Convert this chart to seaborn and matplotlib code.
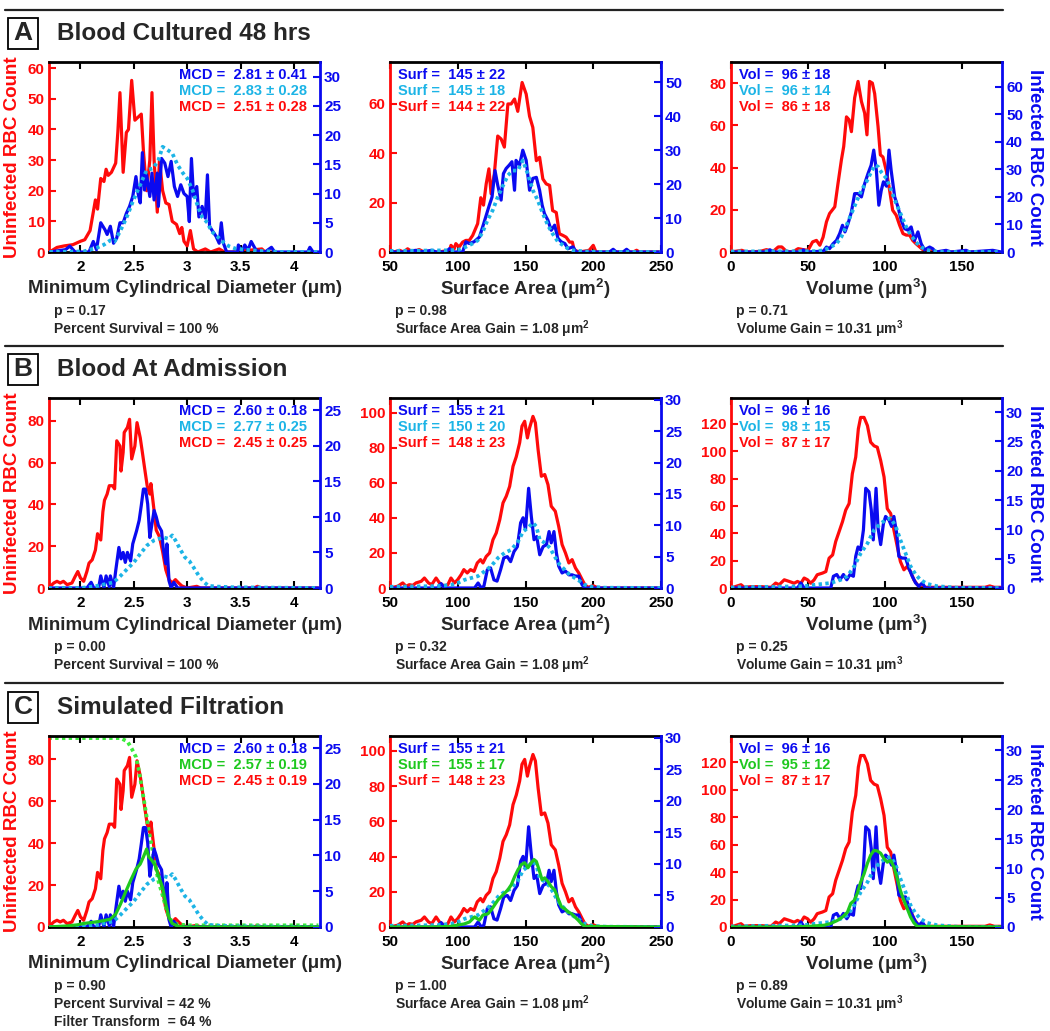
import numpy as np
import pandas as pd
import matplotlib
matplotlib.use("Agg")
import matplotlib.pyplot as plt
import seaborn as sns
from matplotlib.patches import Rectangle
from matplotlib.lines import Line2D

# ---------------- DATA ----------------
# Panel A (Blood Cultured 48 hrs) - MCD
a_mcd_red_x = [1.71,1.78,1.85,1.93,2.0,2.04,2.09,2.14,2.16,2.19,2.22,2.24,2.26,2.29,2.31,2.33,2.35,2.37,2.40,2.43,2.45,2.48,2.51,2.54,2.57,2.59,2.62,2.65,2.67,2.69,2.72,2.74,2.77,2.80,2.83,2.86,2.90,2.93,2.95,2.97,3.00,3.03,3.06,3.10,3.17,3.22,3.30,3.35,3.42,3.70,3.73,3.80]
a_mcd_red_y = [0,1.5,2,2.4,3.5,4,7,17,14,24,23,27,25,26,27.5,29,39,52,26,39,40,56,43,44,45,33,20,30,52,30,13,30,20,16,15.5,10,9,6,8,3.5,2,7,1,0,1,0,1,0,0,1,0,0]
a_mcd_blue_x = [1.71,1.86,1.90,1.95,2.08,2.12,2.15,2.19,2.23,2.25,2.28,2.31,2.34,2.37,2.40,2.43,2.46,2.49,2.52,2.54,2.56,2.58,2.60,2.62,2.65,2.67,2.69,2.72,2.73,2.76,2.79,2.82,2.85,2.88,2.91,2.94,2.97,3.00,3.02,3.04,3.06,3.09,3.11,3.14,3.17,3.19,3.21,3.23,3.27,3.30,3.32,3.34,3.37,3.47,3.48,3.51,3.54,3.57,3.60,3.63,3.65,3.73,3.79,3.82,4.13,4.15,4.18,4.24]
a_mcd_blue_y = [0,0.4,1,0,0,1.8,0.4,5,3.8,3,4.4,1.5,2.4,5,5,6.6,7.8,9.5,12.9,10,8.4,17,10.6,13.2,9.5,13.5,8.9,13.5,7.8,16,15.2,12.9,15.5,11.2,9.5,11.5,10,9.5,5.2,16,9.5,11.2,6,7.8,5.8,13.2,4.4,3.8,2.7,1.5,5,1.5,0,0,1.2,0,1.2,0.3,1.8,0.8,0.2,0,0.8,0,0,0.8,0,0]
a_mcd_cyan_x = [1.71,2.03,2.09,2.15,2.22,2.28,2.32,2.37,2.43,2.49,2.56,2.62,2.68,2.73,2.77,2.82,2.86,2.91,2.96,3.00,3.05,3.10,3.14,3.19,3.23,3.28,3.33,3.39,3.45,3.54,3.67,3.88,4.24]
a_mcd_cyan_y = [0,0.1,0.4,0.7,1.25,2,1.8,3.5,5.8,8.6,11.5,14,14.3,15.7,18,17.4,16.9,14.9,13.5,12.6,10.6,7.8,6,5,3.5,2.7,1.8,1,0.6,0.4,0.2,0,0]

# Panel A - Surface area
a_sa_red_x = [50,53,57,60,63,66.5,71.5,75,86,94,95,97.4,98.6,101,103.6,106,108.5,111,114.7,117,119,121,123,124.6,127,129.5,132,134.4,137,139.4,141.9,144.3,147.5,150.5,153,155.4,158,160.4,162.8,165.3,167.8,170,172.7,175,177.7,180,182.6,184.6,186,190,197,200,202,229.5,232,234,250]
a_sa_red_y = [0.7,0,0.7,0,1.3,0,1,0,0,0.7,2.7,1.3,3.4,2,4,4.7,4.7,6.7,11.5,22,19,27.6,33.7,23.6,31.7,47,45.8,42.5,60,60,62,57,68.7,64,55,50.5,37,38.4,29.6,27.6,27,16.8,16,7.4,6.7,6,4,4,0.7,0,0.7,2.7,0,0,0.7,0,0]
a_sa_blue_x = [50,53,61.6,69,72,81,84,91,94,97,101,103.6,106,108.5,112,116,118.4,121,123.3,125.3,127.5,129.5,132,133.7,135.7,138,140,141.9,143,145.6,148,150.5,153,155.4,158,160.4,162.3,164,166.5,169,171.5,174,176.4,179,181.4,185,187.5,212,214.7,217,222,224.6,227,250]
a_sa_blue_y = [0.5,0,0,0.5,0,0.5,0,0,1,0,0,0,3,2.5,3,4.4,7.4,10.8,13.8,16.2,24,19.7,15.3,23.1,24.6,25.6,26.6,18.2,27,25.6,30,27,18.2,21.7,22,18.2,13.8,11.3,9.4,6.4,7.9,4,3,2.5,1,1.5,0,0,0.8,0,0,0.8,0,0]
a_sa_cyan_x = [50,94,101,106,111,114.7,118.4,122,125.8,129.5,133,137,140.6,144.3,148,151.7,155.4,159,162.8,166.5,170,174,177.7,181.4,185,192.5,207,250]
a_sa_cyan_y = [0.3,0.5,0.7,1.5,2.5,3.4,5.9,9.4,12.3,16.2,19.2,22.6,24,24,27,23,18.2,15.3,11.3,7.9,5.4,3,2,1,0.5,0.2,0,0]

# Panel A - Volume
a_vol_red_x = [0,7,10,19,23,27.4,30.7,33,36,40,43.6,47,50,53,55.5,57.7,59.8,62,64,67.4,69.5,71.7,73.2,75,76.7,78.2,80.3,82.5,84.7,86.8,88.3,90,91.8,93.3,95.5,97,98.7,101,103,105,107.3,109.5,111.7,113.8,116,118,120,122.5,124.6,126.8,129,131,170]
a_vol_red_y = [0,0.8,0,0.3,1.1,0.3,2.4,2.4,0.3,0,1.6,1.1,0.8,4.8,5.5,3.2,7,14.3,18.2,21.4,32.5,43.6,50,64,62.6,57,73,80.8,71.3,65.8,55.5,80.8,80,75,59.4,46,45,38,29.3,19.8,17.4,12.7,8.7,8,8,5.5,4,2.4,1.1,0.3,1.1,0,0]
a_vol_blue_x = [0,23,25.3,27.5,44.7,47,49,60,62,64,66.3,68.5,70.6,72.4,74,76,78.2,80.3,82.5,84.7,86.8,89,91,92.7,94.4,96,97.6,99,101,102.6,104,106.3,108.4,110.6,112.7,115,117,119.2,121.4,123.5,125.7,129,131,133,139.7,143,152.7,155,170,175.5]
a_vol_blue_y = [0,0,0.8,0,0,0.8,0,0.3,1.8,1.2,3,4.2,6.7,9.7,7.3,10.3,14.5,21.2,21.2,20,24.8,28.5,31.5,37,29.7,17,22.4,25.5,23.9,37,29.7,20,16.4,11.5,8.5,7.9,9.1,4.2,7.3,3,0.8,1.8,1.2,0,0.6,0,0.6,0,0.6,0]
a_vol_cyan_x = [0,55,60,64,68.5,71.7,75,78.2,81.4,84.7,88,91,93.3,95.5,97.6,101,104,107.3,110.6,113.8,117,120,123.5,126.8,131,137.6,175.5]
a_vol_cyan_y = [0.2,0.3,0.6,1.6,3,5.5,9.7,13.9,18.2,22.4,25.5,29,31.5,31,29,26.7,22.4,17.6,13.3,9.1,6,3.6,1.8,0.8,0.3,0,0]

# Panel B (Blood At Admission) - MCD (red/blue reused in panel C)
b_mcd_red_x = [1.70,1.75,1.78,1.81,1.84,1.875,1.92,1.95,1.975,2.0,2.03,2.06,2.08,2.11,2.14,2.16,2.19,2.21,2.225,2.25,2.27,2.30,2.32,2.34,2.37,2.38,2.40,2.41,2.44,2.46,2.48,2.51,2.53,2.56,2.58,2.60,2.625,2.65,2.66,2.69,2.71,2.74,2.77,2.80,2.83,2.86,2.89,2.92,2.95,3.0,3.09,3.125,3.625,3.66,3.69,4.23]
b_mcd_red_y = [0,2.4,3.2,2.4,3.2,1.6,2.4,5.5,7.9,4.8,3.2,7.9,11.9,13.5,18.2,26,23,36.5,42,45,49,49,47.5,70.5,68,56,65,74.5,76.9,80.8,61.8,68,79.2,72,65,57.8,49,45,50,37,27.7,24.6,17.4,8.7,4,2.4,4,2.4,1,0,0.8,0,0,0.8,0,0]
b_mcd_blue_x = [1.70,2.06,2.10,2.125,2.17,2.19,2.22,2.24,2.27,2.28,2.31,2.33,2.36,2.38,2.40,2.42,2.44,2.47,2.49,2.525,2.55,2.57,2.59,2.61,2.63,2.65,2.67,2.69,2.71,2.73,2.76,2.775,2.80,2.81,2.83,2.85,2.875,2.91,4.23]
b_mcd_blue_y = [0,0,0.8,0,0,1.7,0,1.7,0.2,1.7,0,2.4,5.7,4.1,5,3.6,5,3.8,6.2,8,9.5,11.6,13.9,13.9,11.8,7.1,9,10.9,10,8.8,8,5.7,3.4,6.2,1,0,0.8,0,0]
b_mcd_cyan_x = [1.70,2.0,2.06,2.16,2.25,2.31,2.375,2.44,2.50,2.56,2.625,2.69,2.73,2.78,2.83,2.86,2.89,2.94,2.98,3.02,3.06,3.11,3.16,3.20,3.28,3.44,4.23]
b_mcd_cyan_y = [0,0,0.1,0.3,0.6,0.8,1.7,2.7,3.6,4.8,6,6.7,6.9,7.1,6.9,7.4,6.7,5.3,4.3,3.8,2.9,1.7,0.8,0.3,0.2,0.1,0]

# Panel B - Surface area
b_sa_red_x = [50,55.7,59.4,61.8,64.3,66.8,69.2,73,75.4,78.4,80.8,84,86.5,90.2,92.7,95,97.6,100,102.5,104.5,107,109.4,112,114.4,116.8,118.6,121,123.5,126,128.4,131,133.4,135.8,138.3,140.8,143.2,145.7,147.4,149.4,151.4,153,155.5,157.3,159.3,161.7,164.2,166.6,169,172,174.5,177,179.5,182,184.4,186.9,189.3,191.8,193.8,196.2,200,203.6,250]
b_sa_red_y = [0,1,2.9,1,1.9,1.5,2.9,3.8,5.7,2.9,1.9,5.7,2.9,1,1.9,5.7,2.9,4.8,7.6,10.5,8.6,10.5,9.5,14.3,16.2,14.3,18,20,27.6,31.4,39,48.6,52.4,58,69.5,75,83,92.4,95.2,85.7,91.4,98,94.3,79,63.8,64.8,59,46.7,43.8,35.2,24.8,20,14.3,16.2,11.4,8.6,4.8,1.9,0.4,1.3,0,0]
b_sa_blue_x = [50,85,87.7,90,112.4,115,117.3,119.3,121.8,124.2,126.7,129,131.6,134,136.6,139,141.5,144,146.4,148.2,150,152.3,154.3,156.3,158.3,160.5,163,165.4,167.4,169,171,172.8,174.5,177,179.5,182,184.4,186.9,189.3,191.8,193.8,250]
b_sa_blue_y = [0,0,0.7,0,0,0.8,0,0.3,2.9,3.2,1.3,1.1,2.9,4.8,5,4.2,5.8,6.6,10.4,11.2,9.3,15.9,11.4,7.7,8.2,5.3,6.6,6.9,9,7.2,9,5.6,3.5,2.4,2.7,2.1,2.1,1.9,1.9,0.5,0,0]
b_sa_cyan_x = [50,85,90,95,100,105,110,115,120,124.7,129.7,134.6,139.5,144.5,148.2,151.8,155.5,158,160.5,164.2,168,171.6,175.3,179,182.7,186.4,190,193.8,198.7,208.6,250]
b_sa_cyan_y = [0.2,0.3,0.4,0.5,0.8,1.3,1.6,1.9,2.7,3.5,4.8,5.6,6.1,7.4,9,9.6,10.4,9.8,7.7,7.2,6.4,5,3.7,2.9,2.1,1.6,1.1,0.5,0.2,0.05,0]

# Panel B - Volume
b_vol_red_x = [0,6.5,8.6,13,19.4,26,29,31.3,34.6,37.8,41,43.2,45.4,47.5,49.7,51.8,54,56,59.4,61.6,63.7,66,68,70.2,72.4,74.5,76.7,78.8,81,82.7,84.2,86.4,88.6,90.7,92.9,95,97.2,99.4,101.5,103.7,105.8,108,110,112.3,114.5,116.6,118.8,121,123,165,168,171,175]
b_vol_red_y = [0,2.4,0.5,1,1,0.5,3.6,2.4,6,4.8,3.5,4.8,3.5,7.3,6,3.5,6,9.7,10.9,12,21.8,24.2,34,41.2,48.5,57,61.8,83.6,95.8,116.4,124.8,124.8,118.8,106.7,104,103,93.3,81.2,58,54.5,42.4,30.3,19.4,13.3,15.8,12,6,2.4,0.5,0.5,1.5,0.5,0.5]
b_vol_blue_x = [0,43.2,45.4,47.5,64.8,66.5,68.7,70.8,73,75.2,77.3,79.5,81,82.5,84.2,86,87.5,89.6,91.1,92.4,94.2,95.5,97.2,99,100.4,102.6,104.3,105.8,107.6,109,111.2,113.4,115.5,117.7,119.9,122,124.2,126.3,175]
b_vol_blue_y = [0,0,0.85,0,0,2,2.3,1.4,2.3,1.4,2.3,2,5.4,7,6.5,9.9,17,16.4,13.3,8.2,17,10.2,7.4,11,12.2,11.6,10.5,12.2,9.3,5.4,5.1,5.1,3.4,2,0.85,0.3,0.85,0,0]
b_vol_cyan_x = [0,47.5,56,64.8,71.3,75.6,80,84.2,88.6,92.9,97.2,100.4,103.7,107,110,113.4,116.6,119.9,123,127.4,134,147,175]
b_vol_cyan_y = [0.1,0.3,0.6,0.85,1.4,2,3.7,5.9,7.6,9.9,11,11.6,11.9,10.5,8.2,5.9,3.7,2.3,1.4,0.7,0.3,0.05,0]

# Panel C (Simulated Filtration) - extra series
c_filter_x = [1.70,2.375,2.44,2.48,2.52,2.55,2.58,2.61,2.64,2.67,2.70,2.73,2.77,2.80,2.83,2.86,2.91,3.0,4.23]
c_filter_y = [90,90,88.4,85,81,74,65,55.8,46,38,30,22,15,9.5,4.8,2.4,1.3,0.8,0.8]
c_mcd_green_x = [1.70,1.875,1.97,2.03,2.09,2.16,2.22,2.28,2.33,2.375,2.42,2.47,2.52,2.56,2.59,2.62,2.64,2.67,2.70,2.73,2.77,2.80,2.83,2.86,2.91,2.97,4.23]
c_mcd_green_y = [0,0.15,0.3,0.5,0.6,0.75,0.9,1.1,1.8,3.2,4.8,6.5,8.1,8.8,9.8,10.9,9.8,9.3,8.6,7.2,5.5,3.2,1.3,0.5,0.15,0,0]
c_sa_green_x = [50,82.8,95,100,105,108.7,112.4,116,118.6,122.3,124.7,127.2,129.7,133.4,137,139.5,142,144.5,147,149.4,151.8,154.3,156.3,158,160,162.2,164.2,166.6,169,171.6,174,176.5,179,181.4,184,186.4,188.8,191.3,193.8,250]
c_sa_green_y = [0,0,0.1,0.3,0.5,0.8,1.6,1.1,1.9,2.1,2.7,3.5,4.3,5.1,5.9,6.7,8,9.1,9.9,10.2,9.4,10.2,10.7,10.4,9.1,7.5,7.8,7.2,6.4,5.9,4.5,3.2,2.9,2.4,2.1,1.6,1.1,0.5,0.1,0]
c_vol_green_x = [0,39,49.7,60.5,64.8,69,72.4,75.6,77.8,80,82,84.2,86.4,88.6,90.7,92.9,95,97.2,99.4,101.5,103.7,105.8,108,110,112.3,114.5,116.6,118.8,121,176]
c_vol_green_y = [0,0,0.1,0.3,0.6,1.1,1.7,2.5,4,4.5,5.7,7.6,9,10.8,12.2,13,12.9,12.5,11.6,11,11.3,10.2,8.2,6.2,4.5,3.1,1.7,0.7,0.1,0]

# Tick labels
mcd_xticks = [2, 2.5, 3, 3.5, 4]
mcd_xticklabels = ["2", "2.5", "3", "3.5", "4"]
sa_xticks = [50, 100, 150, 200, 250]
vol_xticks = [0, 50, 100, 150]

# Legend texts
a_legend = [["MCD =  2.81 ± 0.41", "MCD =  2.83 ± 0.28", "MCD =  2.51 ± 0.28"],
            ["Surf =  145 ± 22", "Surf =  145 ± 18", "Surf =  144 ± 22"],
            ["Vol =  96 ± 18", "Vol =  96 ± 14", "Vol =  86 ± 18"]]
b_legend = [["MCD =  2.60 ± 0.18", "MCD =  2.77 ± 0.25", "MCD =  2.45 ± 0.25"],
            ["Surf =  155 ± 21", "Surf =  150 ± 20", "Surf =  148 ± 23"],
            ["Vol =  96 ± 16", "Vol =  98 ± 15", "Vol =  87 ± 17"]]
c_legend = [["MCD =  2.60 ± 0.18", "MCD =  2.57 ± 0.19", "MCD =  2.45 ± 0.19"],
            ["Surf =  155 ± 21", "Surf =  155 ± 17", "Surf =  148 ± 23"],
            ["Vol =  96 ± 16", "Vol =  95 ± 12", "Vol =  87 ± 17"]]

a_notes = [["p = 0.17", "Percent Survival = 100 %"],
           ["p = 0.98", "Surface Area Gain = 1.08 μm$^2$"],
           ["p = 0.71", "Volume Gain = 10.31 μm$^3$"]]
b_notes = [["p = 0.00", "Percent Survival = 100 %"],
           ["p = 0.32", "Surface Area Gain = 1.08 μm$^2$"],
           ["p = 0.25", "Volume Gain = 10.31 μm$^3$"]]
c_notes = [["p = 0.90", "Percent Survival = 42 %", "Filter Transform  = 64 %"],
           ["p = 1.00", "Surface Area Gain = 1.08 μm$^2$"],
           ["p = 0.89", "Volume Gain = 10.31 μm$^3$"]]

row_titles = ["Blood Cultured 48 hrs", "Blood At Admission", "Simulated Filtration"]
row_letters = ["A", "B", "C"]
xlabels = ["Minimum Cylindrical Diameter (μm)", "Surface Area (μm$^2$)", "Volume (μm$^3$)"]

# ---------------- STYLE ----------------
sns.set_style("white")
plt.rcParams['font.family'] = ['Liberation Sans', 'DejaVu Sans']
plt.rcParams['font.weight'] = 'bold'
plt.rcParams['mathtext.fontset'] = 'custom'
plt.rcParams['mathtext.rm'] = 'Liberation Sans:bold'
plt.rcParams['mathtext.it'] = 'Liberation Sans:bold'
plt.rcParams['mathtext.bf'] = 'Liberation Sans:bold'
plt.rcParams['mathtext.default'] = 'rm'

RED = '#FF0A0A'
BLUE = '#0A0AF0'
CYAN = '#1CB4E6'
GREEN = '#1EC81E'
LGREEN = '#3CEB3C'

W, H = 1050, 1031
fig = plt.figure(figsize=(10.5, 10.31), dpi=100)


def fx(x):
    return x / W


def fy(y):
    return 1 - y / H


def rect(l, t, r, b):
    return [l / W, 1 - b / H, (r - l) / W, (b - t) / H]


def draw(ax, x, y, color, dotted=False, lw=2.3):
    if dotted:
        sns.lineplot(x=x, y=y, ax=ax, color=color, linewidth=2.7,
                     linestyle=(0, (0.9, 0.9)), estimator=None, sort=False, legend=False)
    else:
        sns.lineplot(x=x, y=y, ax=ax, color=color, linewidth=lw,
                     estimator=None, sort=False, legend=False)


cols = [(49, 320), (390, 661), (731, 1002)]
rows = [(62, 252), (398, 588), (736, 927)]
hlines_y = [10, 346, 683]

xlims = [(1.705, 4.245), (50, 250), (0, 176)]
ylimsL = [[(0, 62), (0, 77), (0, 90)],
          [(0, 91), (0, 108.5), (0, 139)],
          [(0, 91), (0, 108.5), (0, 139)]]
ylimsR = [[(0, 32.5), (0, 56), (0, 69)],
          [(0, 26.7), (0, 30.3), (0, 32.4)],
          [(0, 26.7), (0, 30.3), (0, 32.4)]]
yticksL = [[[0, 10, 20, 30, 40, 50, 60], [0, 20, 40, 60], [0, 20, 40, 60, 80]],
           [[0, 20, 40, 60, 80], [0, 20, 40, 60, 80, 100], [0, 20, 40, 60, 80, 100, 120]],
           [[0, 20, 40, 60, 80], [0, 20, 40, 60, 80, 100], [0, 20, 40, 60, 80, 100, 120]]]
yticksR = [[[0, 5, 10, 15, 20, 25, 30], [0, 10, 20, 30, 40, 50], [0, 10, 20, 30, 40, 50, 60]],
           [[0, 5, 10, 15, 20, 25], [0, 5, 10, 15, 20, 25, 30], [0, 5, 10, 15, 20, 25, 30]],
           [[0, 5, 10, 15, 20, 25], [0, 5, 10, 15, 20, 25, 30], [0, 5, 10, 15, 20, 25, 30]]]

# series per panel: (left list, right list) with entries (x, y, color, dotted)
panels = [
    [
        ([(a_mcd_red_x, a_mcd_red_y, RED, False)],
         [(a_mcd_blue_x, a_mcd_blue_y, BLUE, False), (a_mcd_cyan_x, a_mcd_cyan_y, CYAN, True)]),
        ([(a_sa_red_x, a_sa_red_y, RED, False)],
         [(a_sa_blue_x, a_sa_blue_y, BLUE, False), (a_sa_cyan_x, a_sa_cyan_y, CYAN, True)]),
        ([(a_vol_red_x, a_vol_red_y, RED, False)],
         [(a_vol_blue_x, a_vol_blue_y, BLUE, False), (a_vol_cyan_x, a_vol_cyan_y, CYAN, True)]),
    ],
    [
        ([(b_mcd_red_x, b_mcd_red_y, RED, False)],
         [(b_mcd_blue_x, b_mcd_blue_y, BLUE, False), (b_mcd_cyan_x, b_mcd_cyan_y, CYAN, True)]),
        ([(b_sa_red_x, b_sa_red_y, RED, False)],
         [(b_sa_blue_x, b_sa_blue_y, BLUE, False), (b_sa_cyan_x, b_sa_cyan_y, CYAN, True)]),
        ([(b_vol_red_x, b_vol_red_y, RED, False)],
         [(b_vol_blue_x, b_vol_blue_y, BLUE, False), (b_vol_cyan_x, b_vol_cyan_y, CYAN, True)]),
    ],
    [
        ([(b_mcd_red_x, b_mcd_red_y, RED, False), (c_filter_x, c_filter_y, LGREEN, True)],
         [(b_mcd_blue_x, b_mcd_blue_y, BLUE, False), (b_mcd_cyan_x, b_mcd_cyan_y, CYAN, True),
          (c_mcd_green_x, c_mcd_green_y, GREEN, False)]),
        ([(b_sa_red_x, b_sa_red_y, RED, False)],
         [(b_sa_blue_x, b_sa_blue_y, BLUE, False), (b_sa_cyan_x, b_sa_cyan_y, CYAN, True),
          (c_sa_green_x, c_sa_green_y, GREEN, False)]),
        ([(b_vol_red_x, b_vol_red_y, RED, False)],
         [(b_vol_blue_x, b_vol_blue_y, BLUE, False), (b_vol_cyan_x, b_vol_cyan_y, CYAN, True),
          (c_vol_green_x, c_vol_green_y, GREEN, False)]),
    ],
]
legends = [a_legend, b_legend, c_legend]
legend_colors = [[BLUE, CYAN, RED], [BLUE, CYAN, RED], [BLUE, GREEN, RED]]
notes = [a_notes, b_notes, c_notes]
xtick_sets = [(mcd_xticks, mcd_xticklabels), (sa_xticks, [str(v) for v in sa_xticks]),
              (vol_xticks, [str(v) for v in vol_xticks])]

TICK_FS = 11
LEG_FS = 10.5
LAB_FS = 13.5

for r, (top, bot) in enumerate(rows):
    # header line, letter box and title
    yl = hlines_y[r]
    fig.add_artist(Line2D([fx(5), fx(1003)], [fy(yl), fy(yl)], color='#222222', lw=1.6))
    box_top = top - 44
    fig.add_artist(Rectangle((fx(8), fy(box_top + 31)), 30 / W, 31 / H, fill=False,
                             edgecolor='black', lw=1.3, transform=fig.transFigure))
    fig.text(fx(23), fy(box_top + 15.5), row_letters[r], ha='center', va='center',
             fontsize=19, fontweight='bold')
    fig.text(fx(57), fy(box_top + 15), row_titles[r], ha='left', va='center',
             fontsize=17.5, fontweight='bold')

    for c, (left, right) in enumerate(cols):
        ax = fig.add_axes(rect(left, top, right, bot))
        ax2 = ax.twinx()
        lefts, rights = panels[r][c]
        for (x, y, col, dot) in lefts:
            draw(ax, x, y, col, dot)
        for (x, y, col, dot) in rights:
            draw(ax2, x, y, col, dot)

        ax.set_xlim(*xlims[c])
        ax.set_ylim(*ylimsL[r][c])
        ax2.set_ylim(*ylimsR[r][c])
        xt, xtl = xtick_sets[c]
        ax.set_xticks(xt)
        ax.set_xticklabels(xtl)
        ax.set_yticks(yticksL[r][c])
        ax2.set_yticks(yticksR[r][c])
        ax.set_xlabel('')
        ax.set_ylabel('')
        ax2.set_ylabel('')

        for s in ['top', 'bottom']:
            ax.spines[s].set_color('black')
            ax.spines[s].set_linewidth(2)
        ax.spines['left'].set_color(RED)
        ax.spines['left'].set_linewidth(2)
        ax.spines['right'].set_visible(False)
        for s in ['top', 'bottom', 'left']:
            ax2.spines[s].set_visible(False)
        ax2.spines['right'].set_color(BLUE)
        ax2.spines['right'].set_linewidth(2)

        ax.tick_params(axis='x', direction='in', bottom=True, top=True, length=5, width=1.5,
                       color='black', labelcolor='black', labelsize=TICK_FS, pad=6)
        ax.tick_params(axis='y', direction='in', left=True, right=False, length=5, width=1.5,
                       color=RED, labelcolor=RED, labelsize=TICK_FS, pad=3)
        ax2.tick_params(axis='y', direction='in', right=True, left=False, length=5, width=1.5,
                        color=BLUE, labelcolor=BLUE, labelsize=TICK_FS, pad=3)
        for lab in ax.get_xticklabels() + ax.get_yticklabels() + ax2.get_yticklabels():
            lab.set_fontweight('bold')

        # legend-like texts
        for i, (txt, tc) in enumerate(zip(legends[r][c], legend_colors[r])):
            yy = 0.93 - 0.084 * i
            if c == 0:
                ax.text(0.952, yy, txt, transform=ax.transAxes, ha='right', va='center',
                        color=tc, fontsize=LEG_FS, fontweight='bold', zorder=10)
            else:
                ax2.text(0.03, yy, txt, transform=ax.transAxes, ha='left', va='center',
                         color=tc, fontsize=LEG_FS, fontweight='bold', zorder=10)

        # x label
        fig.text(fx((left + right) / 2), fy(bot + 37), xlabels[c], ha='center', va='center',
                 fontsize=LAB_FS, fontweight='bold')
        # notes
        for i, t in enumerate(notes[r][c]):
            fig.text(fx(left + 5), fy(bot + 59 + 18 * i), t, ha='left', va='center',
                     fontsize=10, fontweight='bold')

    # y labels
    fig.text(fx(13), fy((top + bot) / 2), "Uninfected RBC Count", rotation=90, ha='center',
             va='center', color=RED, fontsize=LAB_FS, fontweight='bold')
    fig.text(fx(1035), fy((top + bot) / 2), "Infected RBC Count", rotation=270, ha='center',
             va='center', color=BLUE, fontsize=LAB_FS, fontweight='bold')

fig.savefig("out.png", dpi=100)
